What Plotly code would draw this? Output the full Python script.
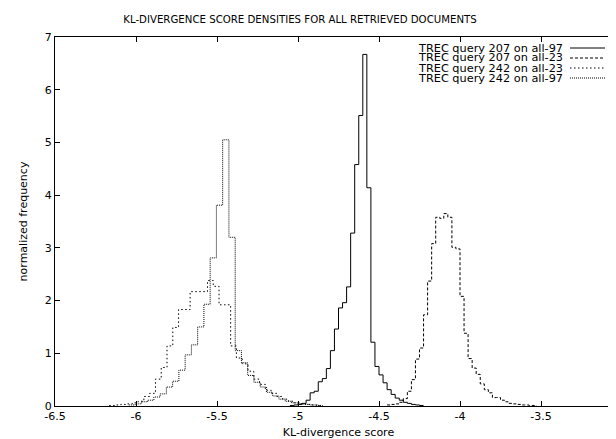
import plotly.graph_objects as go

# ---------------- data ----------------
series_names = [
    "TREC query 207 on all-97",
    "TREC query 207 on all-23",
    "TREC query 242 on all-23",
    "TREC query 242 on all-97",
]

# histogram: first bin left edge, bin width, bin densities
q207_all97_start = -5.05
q207_all97_width = 0.025
q207_all97_values = [0.01, 0.02, 0.03, 0.05, 0.11, 0.25, 0.28, 0.46, 0.52, 0.71,
                     1.05, 1.46, 1.86, 1.96, 2.26, 3.28, 4.58, 5.51, 6.67, 4.14,
                     1.21, 0.75, 0.59, 0.44, 0.31, 0.22, 0.15, 0.11, 0.07, 0.05,
                     0.03, 0.02, 0.01]

q207_all23_start = -4.45
q207_all23_width = 0.025
q207_all23_values = [0.02, 0.03, 0.04, 0.07, 0.14, 0.28, 0.50, 0.89, 1.10, 1.73,
                     2.37, 3.08, 3.58, 3.56, 3.65, 3.58, 3.01, 2.98, 2.08, 1.38,
                     0.90, 0.72, 0.60, 0.42, 0.31, 0.25, 0.16, 0.16, 0.11, 0.08,
                     0.05, 0.04, 0.03, 0.02, 0.02, 0.01, 0.01]

q242_all23_start = -6.1656
q242_all23_width = 0.0357
q242_all23_values = [0.01, 0.02, 0.03, 0.04, 0.06, 0.09, 0.18, 0.24, 0.51, 0.73,
                     1.14, 1.49, 1.83, 1.83, 2.17, 2.17, 2.17, 2.38, 2.27, 1.92,
                     1.92, 1.14, 0.91, 0.80, 0.66, 0.51, 0.41, 0.30, 0.24, 0.18,
                     0.13, 0.09, 0.06, 0.04, 0.03, 0.02, 0.01]

q242_all97_start = -6.044
q242_all97_width = 0.0386
q242_all97_values = [0.02, 0.04, 0.08, 0.11, 0.17, 0.23, 0.36, 0.47, 0.68, 0.97,
                     1.16, 1.50, 1.93, 2.81, 3.81, 5.05, 3.20, 1.05, 0.82, 0.58,
                     0.45, 0.36, 0.26, 0.19, 0.13, 0.09, 0.06, 0.04, 0.03, 0.02,
                     0.01]

x_tick_vals = [-6.5, -6, -5.5, -5, -4.5, -4, -3.5, -3]
x_tick_text = ["-6.5", "-6", "-5.5", "-5", "-4.5", "-4", "-3.5", "-3"]
y_tick_vals = [0, 1, 2, 3, 4, 5, 6, 7]
y_tick_text = ["0", "1", "2", "3", "4", "5", "6", "7"]

title_text = "KL-DIVERGENCE SCORE DENSITIES FOR ALL RETRIEVED DOCUMENTS"
x_title = "KL-divergence score"
y_title = "normalized frequency"

# ---------------- styling ----------------
FONT = "DejaVu Sans, Verdana, sans-serif"
dashes = ["solid", "3px,2px", "1.5px,2.5px", "1px,1px"]

series = [
    (q207_all97_start, q207_all97_width, q207_all97_values),
    (q207_all23_start, q207_all23_width, q207_all23_values),
    (q242_all23_start, q242_all23_width, q242_all23_values),
    (q242_all97_start, q242_all97_width, q242_all97_values),
]


def steps(start, width, values):
    edges = [start + i * width for i in range(len(values) + 1)]
    ys = list(values) + [values[-1]]
    return edges, ys


fig = go.Figure()
for name, (s, w, vals), d in zip(series_names, series, dashes):
    xs, ys = steps(s, w, vals)
    fig.add_trace(go.Scatter(
        x=xs, y=ys, mode="lines", name=name,
        line=dict(color="black", width=1, dash=d, shape="hv"),
        showlegend=False,
    ))

# gnuplot-style legend: right-aligned text with line sample to the right
L, R, T, B = 47, 2, 29, 41
W, H = 616, 439
pw, ph = W - L - R, H - T - B
text_right = (557 - L) / pw
line_x0 = (562 - L) / pw
line_x1 = (597 - L) / pw
row_px = [40, 50, 60, 70]
for name, d, ypx in zip(series_names, dashes, row_px):
    yp = (H - B - ypx) / ph
    fig.add_annotation(x=text_right, y=yp, xref="paper", yref="paper",
                       text=name, showarrow=False, xanchor="right",
                       yanchor="middle", font=dict(size=11.3, color="black",
                                                   family=FONT))
    fig.add_shape(type="line", xref="paper", yref="paper",
                  x0=line_x0, x1=line_x1, y0=yp, y1=yp,
                  line=dict(color="black", width=1, dash=d))

axis_common = dict(
    showgrid=False, zeroline=False, showline=True, linecolor="black",
    linewidth=1, mirror="allticks", ticks="inside", ticklen=5,
    tickcolor="black", tickwidth=1, automargin=False,
    tickfont=dict(size=11, color="black", family=FONT),
)

fig.update_layout(
    width=W, height=H,
    margin=dict(l=L, r=R, t=T, b=B),
    paper_bgcolor="white", plot_bgcolor="white",
    title=dict(text=title_text, x=(292 - L) / pw, xref="paper",
               xanchor="center", y=(H - 11) / H, yanchor="middle",
               font=dict(size=10.2, color="black", family=FONT)),
    xaxis=dict(range=[-6.5, -3], tickvals=x_tick_vals, ticktext=x_tick_text,
               title=dict(text=x_title, standoff=6,
                          font=dict(size=11, color="black", family=FONT)),
               **axis_common),
    yaxis=dict(range=[0, 7], tickvals=y_tick_vals, ticktext=y_tick_text,
               title=dict(text=y_title, standoff=14,
                          font=dict(size=11, color="black", family=FONT)),
               **axis_common),
    font=dict(family=FONT, color="black"),
)

fig.write_html("out.html")
